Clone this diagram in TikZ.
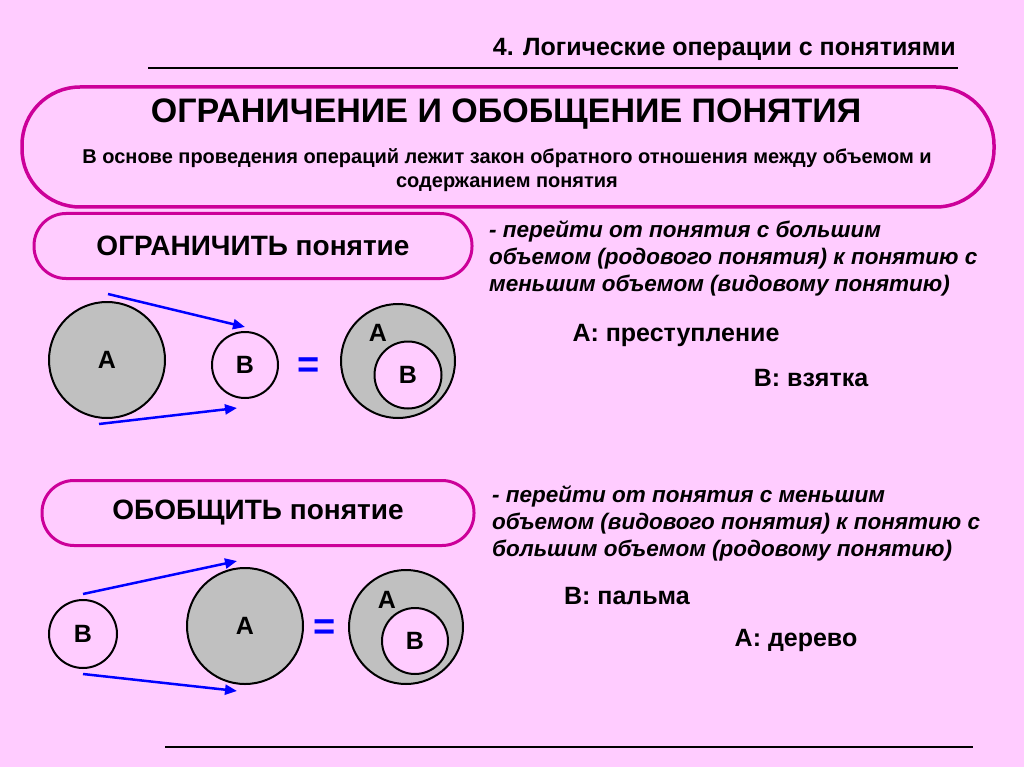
\documentclass[tikz,border=0pt]{standalone}
\usepackage{fontspec}
\setmainfont{Liberation Sans}
\usetikzlibrary{arrows.meta}
\definecolor{bgpink}{HTML}{FFCCFF}
\definecolor{framepink}{HTML}{CC0099}
\definecolor{setgray}{HTML}{C0C0C0}
\definecolor{arrowblue}{HTML}{0000FF}

\begin{document}
\begin{tikzpicture}[x=1pt,y=-1pt,
		frame/.style={draw=framepink, line width=3.5pt, fill=bgpink},
		setbig/.style={draw, circle, line width=2pt, fill=setgray, inner sep=0pt, font=\bfseries\fontsize{25}{29}\selectfont},
		setsmall/.style={draw, circle, line width=2pt, fill=bgpink, inner sep=0pt, font=\bfseries\fontsize{25}{29}\selectfont},
		setlabel/.style={inner sep=0pt, font=\bfseries\fontsize{25}{29}\selectfont},
		equal/.style={text=arrowblue, font=\bfseries\fontsize{38}{38}\selectfont},
		move/.style={draw=arrowblue, line width=2.5pt, -{Triangle[length=12pt,width=10pt]}},
		defn/.style={anchor=north west, align=left, inner sep=0pt, font=\bfseries\itshape\fontsize{22.5}{27}\selectfont},
		sample/.style={inner sep=0pt, font=\bfseries\fontsize{25}{29}\selectfont},
		rule/.style={line width=2.5pt}]
	\fill[bgpink] (0,0) rectangle (1024,767);
	\useasboundingbox (0,0) rectangle (1024,767);

	% header
	\node[anchor=east, inner sep=0pt, font=\bfseries\fontsize{25}{29}\selectfont] (head) at (956,49) {4. Логические операции с понятиями};
	\draw[rule] (148,68) -- (958,68);

	% main frame
	\node[frame, rounded corners=58pt, minimum width=972pt, minimum height=120pt] (main) at (508,147) {};
	\node[inner sep=0pt, font=\bfseries\fontsize{34}{38}\selectfont] (title) at (506,114) {ОГРАНИЧЕНИЕ И ОБОБЩЕНИЕ ПОНЯТИЯ};
	\node[align=center, inner sep=0pt, font=\bfseries\fontsize{20}{24}\selectfont] (basis) at (507,170) {В основе проведения операций лежит закон обратного отношения между объемом и\\содержанием понятия};

	% restriction
	\node[frame, line width=3pt, rounded corners=32pt, minimum width=438pt, minimum height=65pt, font=\bfseries\fontsize{28}{32}\selectfont] (limbox) at (253,246) {ОГРАНИЧИТЬ понятие};
	\node[defn] (limdef) at (489,220) {- перейти от понятия с большим\\объемом (родового понятия) к понятию с\\меньшим объемом (видовому понятию)};

	\node[setbig, minimum size=116pt] (a1) at (107,360) {А};
	\node[setsmall, minimum size=66pt] (b1) at (245,365) {В};
	\node[equal] (eq1) at (309,368) {=};
	\node[setbig, minimum size=114pt] (a2) at (398,361) {};
	\node[setsmall, minimum size=67pt] (b2) at (408,375) {В};
	\node[setlabel] (a2l) at (378,333) {А};

	\coordinate (m1) at (108,294);
	\coordinate (n1) at (245,327);
	\coordinate (m2) at (99,424);
	\coordinate (n2) at (237,408);
	\draw[move] (m1) -- (n1);
	\draw[move] (m2) -- (n2);

	\node[sample] (ex1) at (676,335) {А: преступление};
	\node[sample] (ex2) at (811,378) {В: взятка};

	% generalization
	\node[frame, line width=3pt, rounded corners=32pt, minimum width=432pt, minimum height=65pt, font=\bfseries\fontsize{28}{32}\selectfont] (genbox) at (258,513) {ОБОБЩИТЬ понятие};
	\node[defn] (gendef) at (492,485) {- перейти от понятия с меньшим\\объемом (видового понятия) к понятию с\\большим объемом (родовому понятию)};

	\node[setsmall, minimum size=68pt] (b3) at (83,634) {В};
	\node[setbig, minimum size=116pt] (a3) at (245,626) {А};
	\node[equal] (eq2) at (325,630) {=};
	\node[setbig, minimum size=114pt] (a4) at (406,627) {};
	\node[setsmall, minimum size=66pt] (b4) at (415,641) {В};
	\node[setlabel] (a4l) at (387,600) {А};

	\coordinate (m3) at (83,594);
	\coordinate (n3) at (237,561);
	\coordinate (m4) at (83,674);
	\coordinate (n4) at (237,691);
	\draw[move] (m3) -- (n3);
	\draw[move] (m4) -- (n4);

	\node[sample] (ex3) at (627,596) {В: пальма};
	\node[sample] (ex4) at (796,640) {А: дерево};

	\draw[rule] (165,747) -- (973,747);
\end{tikzpicture}
\end{document}
